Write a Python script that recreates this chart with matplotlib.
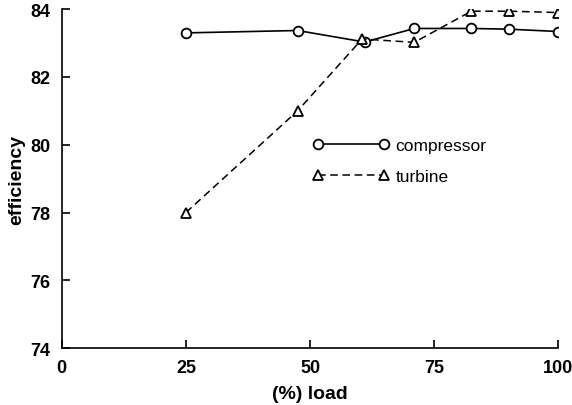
import matplotlib
matplotlib.use('Agg')
import matplotlib.pyplot as plt

# values
load_comp = [25, 47.5, 61, 71, 82.5, 90, 100]
eff_comp = [83.3, 83.37, 83.03, 83.43, 83.43, 83.41, 83.34]
load_turb = [25, 47.5, 60.5, 71, 82.5, 90, 100]
eff_turb = [78.0, 81.0, 83.12, 83.02, 83.94, 83.94, 83.9]

x_ticks = [0, 25, 50, 75, 100]
y_ticks = [74, 76, 78, 80, 82, 84]

plt.rcParams['font.family'] = ['Liberation Sans', 'DejaVu Sans']

fig = plt.figure(figsize=(5.72, 4.06), dpi=100)
ax = fig.add_axes([0.108, 0.14, 0.868, 0.835])

ax.plot(load_comp, eff_comp, '-', color='black', lw=1.2, marker='o', ms=7,
        mfc='white', mec='black', mew=1.3, label='compressor')
ax.plot(load_turb, eff_turb, '--', color='black', lw=1.1, marker='^', ms=7,
        mfc='white', mec='black', mew=1.3, dashes=(5, 3), label='turbine')

ax.set_xlim(0, 100)
ax.set_ylim(74, 84)
ax.set_xticks(x_ticks)
ax.set_yticks(y_ticks)
ax.spines['top'].set_visible(False)
ax.spines['right'].set_visible(False)
ax.spines['left'].set_linewidth(1.2)
ax.spines['bottom'].set_linewidth(1.2)
ax.tick_params(direction='in', length=6, width=1.2, labelsize=13, pad=8)
for lab in ax.get_xticklabels() + ax.get_yticklabels():
    lab.set_fontweight('bold')

ax.set_xlabel('(%) load', fontsize=14, fontweight='bold', labelpad=6)
ax.set_ylabel('efficiency', fontsize=14, fontweight='bold', labelpad=4)

ax.legend(loc='upper left', bbox_to_anchor=(0.475, 0.665), frameon=False,
          numpoints=2, handlelength=4.4, fontsize=12.5, labelspacing=0.9,
          handletextpad=0.35)

fig.savefig('out.png', dpi=100)
